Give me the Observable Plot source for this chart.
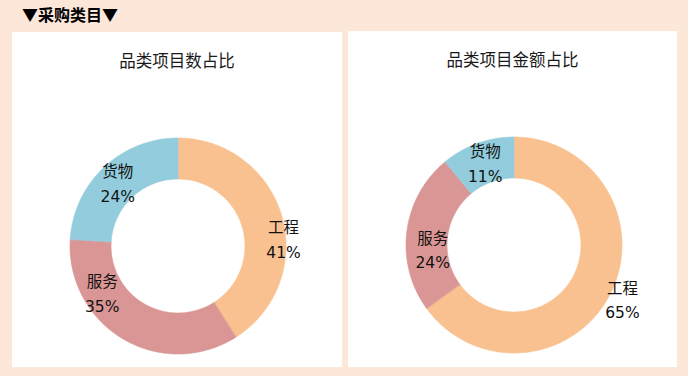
<!DOCTYPE html>
<html><head><meta charset="utf-8">
<script src="https://cdn.jsdelivr.net/npm/d3@7"></script>
<script src="https://cdn.jsdelivr.net/npm/@observablehq/plot@0.6"></script>
<style>
body{margin:0;background:#FCE7D9;}
#root{position:relative;width:688px;height:376px;background:#FCE7D9;overflow:hidden;font-family:"DejaVu Sans","Noto Sans CJK SC",sans-serif;}
.hdr{position:absolute;left:22px;top:4px;font-size:16px;font-weight:bold;line-height:20px;color:#000;white-space:nowrap;font-family:"Noto Sans CJK SC",sans-serif;}
.panel{position:absolute;background:#fff;}
.panel svg{position:absolute;left:0;top:0;}
.title{position:absolute;left:0;right:0;text-align:center;font-size:16.5px;line-height:20px;color:#1a1a1a;font-family:"Noto Sans CJK SC",sans-serif;z-index:2;}
</style></head>
<body><div id="root"></div>
<script>
// ---- data ----
const headerText = "▼采购类目▼";
const categories = ["工程", "服务", "货物"];
const countShares = [41, 35, 24];
const amountShares = [65, 24, 11];
const chartTitles = ["品类项目数占比", "品类项目金额占比"];

// ---- style / layout ----
const sliceColors = ["#FAC190", "#D99694", "#93CDDD"];
const panels = [
  {left: 12, top: 32, w: 330, h: 335, cx: 165.5, cy: 213.5, R: 108,
   nudges: [[21, 16], [-31, -30], [0, 0]]},
  {left: 348, top: 31, w: 329, h: 336, cx: 165.5, cy: 213.5, R: 108,
   nudges: [[30, 13], [6, 14], [1, -1]]}
];
const innerRatio = 0.62, labelRadius = 0.815;

const root = document.getElementById("root");
const hdr = document.createElement("div");
hdr.className = "hdr"; hdr.textContent = headerText; root.appendChild(hdr);

function donut(values, title, p) {
  const total = d3.sum(values);
  let acc = 0;
  const pts = [], labels = [];
  values.forEach((v, i) => {
    const f0 = acc / total, f1 = (acc + v) / total; acc += v;
    const n = Math.max(8, Math.ceil((f1 - f0) * 360));
    for (let k = 0; k <= n; k++) {
      const t = 2 * Math.PI * (f0 + (f1 - f0) * k / n);
      pts.push({cat: categories[i], x: Math.sin(t), y: Math.cos(t)});
    }
    for (let k = n; k >= 0; k--) {
      const t = 2 * Math.PI * (f0 + (f1 - f0) * k / n);
      pts.push({cat: categories[i], x: innerRatio * Math.sin(t), y: innerRatio * Math.cos(t)});
    }
    const tm = 2 * Math.PI * (f0 + f1) / 2;
    labels.push({cat: categories[i], x: labelRadius * Math.sin(tm), y: labelRadius * Math.cos(tm),
      text: categories[i] + "\n" + v + "%", nudge: p.nudges[i]});
  });
  const svg = Plot.plot({
    width: p.w, height: p.h, margin: 0,
    style: {background: "transparent", overflow: "visible"},
    x: {domain: [-1, 1], range: [p.cx - p.R, p.cx + p.R], axis: null},
    y: {domain: [-1, 1], range: [p.cy + p.R, p.cy - p.R], axis: null},
    color: {domain: categories, range: sliceColors},
    marks: [
      Plot.line(pts, {x: "x", y: "y", z: "cat", fill: "cat", stroke: "cat", strokeWidth: 0.6, curve: "linear-closed"}),
      ...labels.map(l => Plot.text([l], {x: "x", y: "y", text: "text", dx: l.nudge[0], dy: l.nudge[1],
        fontSize: 15.5, lineHeight: 1.6, fill: "#111", textAnchor: "middle",
        fontFamily: "'DejaVu Sans','Noto Sans CJK SC',sans-serif"}))
    ]
  });
  const div = document.createElement("div");
  div.className = "panel";
  Object.assign(div.style, {left: p.left + "px", top: p.top + "px", width: p.w + "px", height: p.h + "px"});
  div.appendChild(svg);
  const t = document.createElement("div");
  t.className = "title"; t.textContent = title; t.style.top = "18px";
  div.appendChild(t);
  root.appendChild(div);
}
donut(countShares, chartTitles[0], panels[0]);
donut(amountShares, chartTitles[1], panels[1]);
</script></body></html>
